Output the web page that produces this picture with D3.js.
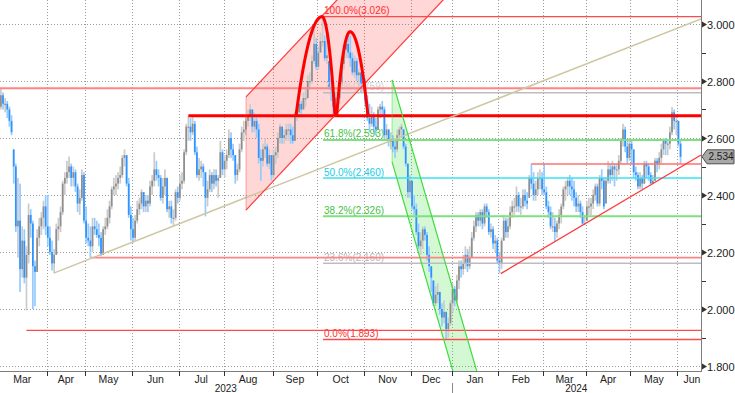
<!DOCTYPE html>
<html><head><meta charset="utf-8">
<script src="https://cdn.jsdelivr.net/npm/d3@7"></script>
<style>
body{margin:0;background:#fff;}
svg{display:block;font-family:"Liberation Sans",Arial,sans-serif;}
</style>
</head><body>
<svg id="c" width="735" height="393"></svg>
<script>
// ---------- DATA ----------
const tradingStart = "2023-03-01", tradingEnd = "2024-06-04";
const holidays = ["2023-04-07","2023-04-10","2023-05-01","2023-12-25","2023-12-26","2024-01-01","2024-03-29","2024-04-01","2024-05-01"];

const highs = [
 2.73,2.775,2.76,2.74,2.73,2.71,2.68,2.56,2.51,2.46,2.44,2.29,2.28,2.22,2.37,2.35,2.31,2.17,2.28,2.32,2.34,2.38,2.40,
 2.40,2.29,2.24,2.21,2.30,2.32,2.36,2.45,2.48,2.52,2.535,2.51,2.50,2.49,2.44,2.42,2.49,2.48,
 2.36,2.30,2.29,2.32,2.32,2.31,2.30,2.27,2.29,2.32,2.35,2.38,2.43,2.46,2.47,2.48,2.50,2.54,2.56,2.54,2.46,2.36,
 2.32,2.33,2.38,2.39,2.42,2.41,2.40,2.40,2.45,2.47,2.55,2.52,2.49,2.47,2.46,2.49,2.46,2.38,2.38,2.35,2.42,2.43,
 2.47,2.48,2.56,2.65,2.678,2.67,2.675,2.66,2.57,2.53,2.52,2.51,2.48,2.45,2.49,2.48,2.49,2.49,2.47,2.59,2.56,
 2.54,2.56,2.63,2.62,2.58,2.54,2.51,2.58,2.64,2.66,2.68,2.70,2.72,2.70,2.69,2.68,2.65,2.56,2.58,2.60,2.58,2.56,2.54,
 2.56,2.57,2.62,2.65,2.64,2.63,2.65,2.65,2.65,2.64,2.69,2.71,2.74,2.73,2.76,2.78,2.82,2.83,2.89,2.98,2.95,
 2.92,2.97,3.026,2.96,2.97,2.87,2.81,2.77,2.76,2.76,2.81,2.87,2.92,2.95,2.968,2.96,2.90,2.89,2.88,2.84,2.83,2.82,
 2.81,2.75,2.72,2.71,2.69,2.67,2.71,2.72,2.73,2.71,2.65,2.63,2.62,2.61,2.59,2.63,2.64,2.65,2.63,2.58,2.51,2.47,
 2.45,2.40,2.37,2.30,2.27,2.29,2.29,2.27,2.22,2.15,2.10,2.08,2.09,2.06,2.02,2.03,1.99,1.97,2.03,
 2.09,2.08,2.12,2.17,2.17,2.19,2.22,2.21,2.22,2.27,2.31,2.34,2.34,2.35,2.35,2.37,2.37,2.35,2.30,2.29,2.26,2.25,
 2.20,2.25,2.33,2.32,2.32,2.36,2.38,2.39,2.43,2.41,2.39,2.42,2.42,2.41,2.47,2.51,2.48,2.45,2.48,2.49,2.48,
 2.51,2.43,2.38,2.36,2.34,2.32,2.31,2.35,2.37,2.43,2.45,2.46,2.47,2.46,2.45,2.41,2.40,2.38,2.36,2.33,
 2.38,2.39,2.39,2.42,2.44,2.44,2.47,2.49,2.46,2.46,2.52,2.51,2.52,2.51,2.51,2.54,2.60,2.65,2.64,2.59,2.60,
 2.59,2.56,2.50,2.48,2.48,2.47,2.52,2.52,2.51,2.48,2.47,2.53,2.53,2.55,2.58,2.60,2.60,2.59,2.64,2.709,2.70,2.68,
 2.66,2.59
];
const lows = [
 2.67,2.70,2.70,2.69,2.67,2.64,2.61,2.44,2.27,2.18,2.06,2.11,2.09,1.995,2.16,2.25,2.00,2.01,2.13,2.22,2.26,2.28,2.26,
 2.22,2.19,2.135,2.126,2.19,2.24,2.27,2.33,2.40,2.44,2.46,2.43,2.43,2.41,2.34,2.33,2.38,2.30,
 2.23,2.22,2.18,2.20,2.26,2.25,2.22,2.185,2.19,2.26,2.28,2.30,2.35,2.40,2.40,2.42,2.44,2.46,2.50,2.43,2.32,2.24,
 2.235,2.24,2.30,2.33,2.35,2.34,2.34,2.34,2.36,2.40,2.43,2.45,2.43,2.38,2.37,2.40,2.34,2.32,2.30,2.29,2.31,2.37,
 2.38,2.42,2.44,2.54,2.59,2.59,2.61,2.54,2.46,2.45,2.46,2.43,2.325,2.36,2.41,2.41,2.42,2.43,2.39,2.46,2.47,
 2.46,2.49,2.53,2.53,2.52,2.44,2.45,2.48,2.55,2.59,2.61,2.64,2.66,2.62,2.62,2.60,2.51,2.45,2.50,2.53,2.50,2.49,2.45,
 2.46,2.51,2.53,2.58,2.58,2.58,2.59,2.59,2.58,2.58,2.59,2.66,2.67,2.68,2.70,2.71,2.74,2.77,2.79,2.86,2.84,
 2.84,2.90,2.92,2.87,2.86,2.77,2.73,2.68,2.68,2.70,2.72,2.78,2.84,2.88,2.88,2.85,2.82,2.81,2.80,2.78,2.76,2.76,
 2.71,2.66,2.62,2.64,2.62,2.61,2.63,2.67,2.68,2.59,2.59,2.57,2.56,2.55,2.53,2.55,2.59,2.60,2.56,2.50,2.39,2.39,
 2.35,2.33,2.26,2.21,2.19,2.21,2.24,2.17,2.13,2.06,2.01,2.01,2.02,1.98,1.94,1.95,1.893,1.90,1.94,
 1.99,2.01,2.02,2.07,2.11,2.12,2.14,2.13,2.14,2.18,2.24,2.27,2.29,2.29,2.28,2.29,2.32,2.26,2.25,2.21,2.20,2.16,
 2.126,2.14,2.24,2.25,2.25,2.28,2.32,2.33,2.34,2.34,2.33,2.35,2.36,2.35,2.39,2.42,2.38,2.38,2.40,2.42,2.40,
 2.40,2.35,2.32,2.28,2.27,2.238,2.25,2.28,2.30,2.35,2.38,2.40,2.40,2.38,2.36,2.34,2.34,2.32,2.296,2.30,
 2.31,2.33,2.33,2.35,2.38,2.36,2.36,2.42,2.35,2.37,2.44,2.44,2.45,2.43,2.45,2.47,2.51,2.57,2.55,2.51,2.52,
 2.51,2.46,2.45,2.42,2.42,2.42,2.44,2.46,2.45,2.44,2.44,2.45,2.48,2.49,2.51,2.54,2.54,2.54,2.56,2.61,2.63,2.61,
 2.57,2.51
];
const closes = [
 2.71,2.75,2.72,2.72,2.70,2.66,2.62,2.50,2.29,2.31,2.14,2.24,2.11,2.19,2.33,2.30,2.15,2.13,2.25,2.29,2.32,2.36,2.29,
 2.25,2.20,2.16,2.19,2.28,2.29,2.34,2.44,2.46,2.48,2.50,2.46,2.48,2.43,2.37,2.39,2.47,2.31,
 2.25,2.24,2.22,2.29,2.28,2.26,2.25,2.19,2.28,2.29,2.32,2.36,2.42,2.43,2.44,2.46,2.47,2.53,2.54,2.44,2.33,2.28,
 2.25,2.31,2.35,2.37,2.41,2.36,2.38,2.37,2.43,2.45,2.49,2.47,2.46,2.39,2.43,2.46,2.35,2.36,2.32,2.32,2.41,2.39,
 2.44,2.45,2.55,2.64,2.64,2.62,2.65,2.55,2.47,2.49,2.50,2.48,2.39,2.42,2.47,2.44,2.47,2.45,2.46,2.55,2.49,
 2.52,2.54,2.60,2.56,2.54,2.47,2.49,2.56,2.62,2.63,2.66,2.68,2.70,2.64,2.66,2.63,2.53,2.52,2.56,2.57,2.51,2.54,2.47,
 2.54,2.55,2.60,2.64,2.60,2.61,2.63,2.63,2.61,2.59,2.68,2.69,2.72,2.70,2.74,2.74,2.80,2.80,2.87,2.93,2.85,
 2.90,2.94,2.94,2.88,2.89,2.78,2.77,2.71,2.74,2.74,2.79,2.86,2.91,2.93,2.90,2.88,2.83,2.87,2.82,2.83,2.79,2.80,
 2.73,2.67,2.65,2.68,2.64,2.63,2.70,2.71,2.70,2.61,2.63,2.59,2.59,2.57,2.56,2.61,2.63,2.64,2.57,2.51,2.41,2.45,
 2.36,2.35,2.27,2.22,2.24,2.28,2.26,2.19,2.15,2.11,2.02,2.05,2.06,2.00,1.97,1.99,1.93,1.95,2.02,
 2.07,2.03,2.10,2.15,2.14,2.16,2.19,2.15,2.18,2.25,2.29,2.33,2.31,2.34,2.30,2.36,2.34,2.27,2.28,2.23,2.24,2.17,
 2.16,2.24,2.31,2.27,2.29,2.34,2.36,2.36,2.40,2.36,2.36,2.40,2.38,2.37,2.46,2.44,2.40,2.42,2.46,2.46,2.42,
 2.41,2.36,2.34,2.29,2.29,2.27,2.30,2.33,2.36,2.42,2.43,2.45,2.43,2.42,2.39,2.36,2.37,2.34,2.30,2.30,
 2.36,2.36,2.37,2.40,2.43,2.37,2.46,2.45,2.36,2.45,2.49,2.47,2.50,2.49,2.49,2.52,2.59,2.63,2.57,2.53,2.58,
 2.56,2.48,2.47,2.43,2.46,2.44,2.51,2.50,2.47,2.44,2.45,2.52,2.51,2.53,2.56,2.59,2.58,2.58,2.62,2.69,2.66,2.66,
 2.58,2.534
];

const yTickValues = [1.8, 2.0, 2.2, 2.4, 2.6, 2.8, 3.0];
const lastValue = 2.534;

// horizontal levels: value and the trading-day index where each starts
const levelValues = [2.775, 2.678, 2.509, 2.180, 1.925];
const levelStarts = [0, 89, 250, 43.3, 13];

// Fibonacci retracement
const fibHigh = 3.026, fibLow = 1.893, fibAnchor = 152.2;
const fibRatios = [1, 0.764, 0.618, 0.5, 0.382, 0.236, 0];

// trend lines [index, value]
const tanTrend = [[25.8, 2.126], [329.6, 3.018]];
const redTrend = [[235.6, 2.124], [329.6, 2.540]];

// channels: start index, upper value, lower value, slope per day, end index
const upChannel = [116.05, 2.744, 2.347, 0.00797, 212];
const downChannel = [184.6, 2.804, 2.516, -0.02571, 230];

// double top arches: start, peak, end index, top value ; base neckline
const arches = [[139.5, 151.7, 157.8, 3.026], [158.6, 164.9, 173.3, 2.973]];
const archBase = 2.678;

// ---------- BUILD ----------
const fmtDay = d3.utcFormat("%Y-%m-%d"), parse = d3.utcParse("%Y-%m-%d");
const hol = new Set(holidays);
const dates = d3.utcDays(parse(tradingStart), d3.utcDay.offset(parse(tradingEnd), 1))
  .filter(d => d.getUTCDay() % 6 !== 0 && !hol.has(fmtDay(d)));

const PR = 701, PB = 371;
const svg = d3.select("#c");
const x = d3.scaleLinear().domain([0.58, 329.6]).range([0, PR]);
const y = d3.scaleLinear().domain([1.8, 3.0]).range([366, 24]);

svg.append("defs").append("clipPath").attr("id", "clip")
  .append("rect").attr("x", 0).attr("y", 0).attr("width", PR).attr("height", PB);
const plot = svg.append("g").attr("clip-path", "url(#clip)");

// months
const monthKey = d3.utcFormat("%Y-%m");
const months = d3.groups(dates.map((d, i) => ({d, i})), o => monthKey(o.d))
  .map(([k, arr]) => ({key: k, date: arr[0].d, first: arr[0].i, last: arr[arr.length - 1].i}));

// grid
const px = v => Math.round(v) + 0.5;
plot.append("g").selectAll("line").data(yTickValues).join("line")
  .attr("x1", 0).attr("x2", PR).attr("y1", d => px(y(d))).attr("y2", d => px(y(d)))
  .attr("stroke", "#9c9c9c").attr("stroke-dasharray", "1,2");
plot.append("g").selectAll("line").data(months.slice(1)).join("line")
  .attr("x1", d => px(x(d.first - 0.5))).attr("x2", d => px(x(d.first - 0.5)))
  .attr("y1", 0).attr("y2", PB)
  .attr("stroke", "#9c9c9c").attr("stroke-dasharray", "1,2");

// channels
function channelPoly(c) {
  const [s, up, lo, sl, e] = c;
  return [[s, up], [e, up + sl * (e - s)], [e, lo + sl * (e - s)], [s, lo]];
}
const poly = d3.line().x(d => x(d[0])).y(d => y(d[1]));
const upPoly = channelPoly(upChannel), dnPoly = channelPoly(downChannel);
plot.append("path").attr("d", poly(upPoly) + "Z").attr("fill", "rgba(255,40,40,0.19)");
plot.append("path").attr("d", poly(dnPoly) + "Z").attr("fill", "rgba(40,220,40,0.2)");

// bars
const ohlc = dates.map((d, i) => {
  const o = i ? Math.max(lows[i], Math.min(highs[i], closes[i - 1])) : closes[i];
  return {i, o, h: highs[i], l: lows[i], c: closes[i], up: closes[i] >= o};
});
const bw = 1.7;
const bars = plot.append("g");
bars.selectAll("rect.w").data(ohlc).join("rect").attr("class", "w")
  .attr("x", d => x(d.i) - bw / 2).attr("width", bw)
  .attr("y", d => y(d.h)).attr("height", d => Math.max(1, y(d.l) - y(d.h)))
  .attr("fill", d => d.up ? "#cbcbcb" : "#96cbff");
bars.selectAll("rect.b").data(ohlc).join("rect").attr("class", "b")
  .attr("x", d => x(d.i) - bw / 2).attr("width", bw)
  .attr("y", d => y(Math.max(d.o, d.c))).attr("height", d => Math.max(1.2, Math.abs(y(d.o) - y(d.c))))
  .attr("fill", d => d.up ? "#8e8e8e" : "#2f93ff");

// fib
const fibStyle = {
  "1": ["#ff4a4a", 1.4, "#ff3030"], "0.764": ["#bcbcbc", 1.4, "#d0d0d0"], "0.618": ["#7fe07f", 2, "#3fc43f"],
  "0.5": ["#37e3f7", 1.6, "#22cbe6"], "0.382": ["#7fe07f", 2, "#3fc43f"], "0.236": ["#bdbdbd", 1.4, "#b6b6b6"],
  "0": ["#ff4a4a", 1.4, "#ff3030"]
};
const fib = plot.append("g");
fibRatios.forEach(r => {
  const v = fibLow + r * (fibHigh - fibLow);
  const st = fibStyle[String(r)];
  fib.append("line").attr("x1", x(fibAnchor)).attr("x2", PR).attr("y1", y(v)).attr("y2", y(v))
    .attr("stroke", st[0]).attr("stroke-width", st[1]);
  fib.append("text").attr("x", x(fibAnchor) + 1).attr("y", y(v) - 2.5)
    .attr("font-size", 10).attr("fill", st[2])
    .text((r * 100).toFixed(1) + "%(" + (v + 1e-9).toFixed(3) + ")");
});

// horizontal levels
const levelStyle = [["#ff8585", 2], ["#ff0000", 3], ["#ff7070", 1.6], ["#ff8585", 1.8], ["#ff4a4a", 1.4]];
plot.append("g").selectAll("line").data(levelValues).join("line")
  .attr("x1", (d, k) => x(levelStarts[k])).attr("x2", PR)
  .attr("y1", d => y(d)).attr("y2", d => y(d))
  .attr("stroke", (d, k) => levelStyle[k][0]).attr("stroke-width", (d, k) => levelStyle[k][1]);

// trend lines
plot.append("path").attr("d", poly(tanTrend)).attr("stroke", "#cfc7a3").attr("stroke-width", 1.5).attr("fill", "none");
plot.append("path").attr("d", poly(redTrend)).attr("stroke", "#ff3b3b").attr("stroke-width", 1.3).attr("fill", "none");

// channel lines
function channelLines(c, col, edge) {
  const p = channelPoly(c);
  plot.append("path").attr("d", poly([p[0], p[1]])).attr("stroke", col).attr("stroke-width", 1.2).attr("fill", "none");
  plot.append("path").attr("d", poly([p[3], p[2]])).attr("stroke", col).attr("stroke-width", 1.2).attr("fill", "none");
  plot.append("path").attr("d", poly([p[0], p[3]])).attr("stroke", edge).attr("stroke-width", 1).attr("fill", "none");
}
channelLines(upChannel, "#ff3b3b", "rgba(255,60,60,0.45)");
channelLines(downChannel, "#3fdc3f", "rgba(60,220,60,0.5)");

// arches
arches.forEach(([s, p, e, top]) => {
  const pts = [];
  for (let k = 0; k <= 40; k++) {
    const t = k / 40;
    const xi = s + (p - s) * t;
    pts.push([xi, archBase + (top - archBase) * (1 - (1 - t) * (1 - t))]);
  }
  for (let k = 1; k <= 40; k++) {
    const t = k / 40;
    const xi = p + (e - p) * t;
    pts.push([xi, archBase + (top - archBase) * (1 - t * t)]);
  }
  plot.append("path").attr("d", poly(pts)).attr("stroke", "#ff0000").attr("stroke-width", 3)
    .attr("fill", "none").attr("stroke-linejoin", "round");
});

// ---------- AXES ----------
const ax = svg.append("g");
ax.append("line").attr("x1", PR + 0.5).attr("x2", PR + 0.5).attr("y1", 0).attr("y2", PB + 1).attr("stroke", "#7d7d7d");
ax.append("line").attr("x1", 0).attr("x2", PR + 1).attr("y1", PB + 0.5).attr("y2", PB + 0.5).attr("stroke", "#7d7d7d");
// y ticks
yTickValues.forEach(v => {
  const yy = Math.round(y(v)) + 0.5;
  ax.append("path").attr("d", `M${PR + 1},${yy - 3}L${PR + 6},${yy}L${PR + 1},${yy + 3}Z`).attr("fill", "#333");
  ax.append("text").attr("x", PR + 6).attr("y", yy + 4).attr("font-size", 11).attr("fill", "#222").text(v.toFixed(3));
});
d3.range(1.9, 3.0, 0.2).forEach(v => {
  const yy = Math.round(y(v)) + 0.5;
  ax.append("line").attr("x1", PR + 1).attr("x2", PR + 5).attr("y1", yy).attr("y2", yy).attr("stroke", "#333");
});
// x ticks & labels
const monthName = d3.utcFormat("%b");
months.forEach((m, k) => {
  const b = x(m.first - 0.5);
  if (k > 0) ax.append("line").attr("x1", px(b)).attr("x2", px(b)).attr("y1", PB).attr("y2", PB + 5).attr("stroke", "#333");
  const isLast = k === months.length - 1;
  const e = isLast ? x(m.first + 20.5) : x(m.last + 0.5);
  const cx = Math.min((b + e) / 2, PR - 9);
  ax.append("text").attr("x", cx).attr("y", 383).attr("text-anchor", "middle")
    .attr("font-size", 10.5).attr("fill", "#222").text(monthName(m.date));
});
const yearSplit = months.find(m => m.key === "2024-01");
const ys = x(yearSplit.first - 0.5);
ax.append("line").attr("x1", px(ys)).attr("x2", px(ys)).attr("y1", 383).attr("y2", 393).attr("stroke", "#888");
ax.append("text").attr("x", ys / 2).attr("y", 392).attr("text-anchor", "middle").attr("font-size", 10).attr("fill", "#222").text("2023");
ax.append("text").attr("x", (ys + PR) / 2).attr("y", 392).attr("text-anchor", "middle").attr("font-size", 10).attr("fill", "#222").text("2024");

// last price tag
const ty = y(lastValue);
ax.append("path").attr("d", `M${PR + 1},${ty}L${PR + 6},${ty - 7}L734,${ty - 7}L734,${ty + 7}L${PR + 6},${ty + 7}Z`)
  .attr("fill", "#a8a8a8").attr("stroke", "#4d4d4d").attr("stroke-width", 1);
ax.append("text").attr("x", PR + 7.5).attr("y", ty + 3.5).attr("font-size", 10).attr("fill", "#1a1a1a").text(lastValue.toFixed(3));
</script>
</body></html>
